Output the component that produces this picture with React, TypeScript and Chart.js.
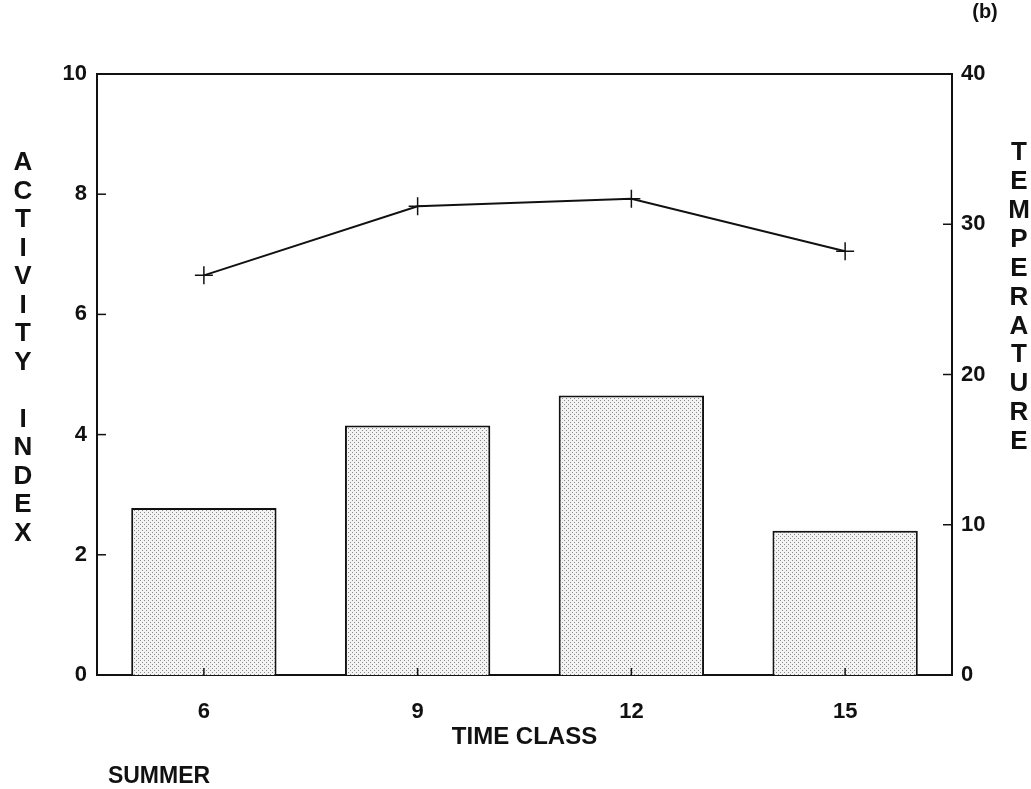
import React, { useEffect, useRef } from "react";
import { Chart, registerables } from "chart.js";

Chart.register(...registerables);

// ---- data ----
const timeClasses = ["6", "9", "12", "15"];
const activityIndex = [2.78, 4.15, 4.65, 2.4];
const temperature = [26.6, 31.2, 31.7, 28.2];
const leftTicks = [0, 2, 4, 6, 8, 10];
const rightTicks = [0, 10, 20, 30, 40];

// ---- text ----
const leftTitle = "ACTIVITY INDEX";
const rightTitle = "TEMPERATURE";
const xTitle = "TIME CLASS";
const seasonLabel = "SUMMER";
const panelLabel = "(b)";

const FONT = "'Liberation Sans', Arial, Helvetica, sans-serif";

function makePattern(): CanvasPattern | string {
  const c = document.createElement("canvas");
  c.width = 4;
  c.height = 4;
  const g = c.getContext("2d");
  if (!g) return "#e4e4e4";
  g.fillStyle = "#f3f3f3";
  g.fillRect(0, 0, 4, 4);
  g.fillStyle = "#8a8a8a";
  g.fillRect(0, 0, 1, 1);
  g.fillRect(2, 2, 1, 1);
  const p = g.createPattern(c, "repeat");
  return p || "#e4e4e4";
}

const decorPlugin = {
  id: "decor",
  afterDraw(chart: any) {
    const { ctx, chartArea } = chart;
    const { left, right, top, bottom } = chartArea;
    ctx.save();
    ctx.strokeStyle = "#111";
    ctx.lineWidth = 2;
    // top frame line
    ctx.beginPath();
    ctx.moveTo(left, top);
    ctx.lineTo(right, top);
    ctx.stroke();
    // inward ticks
    const y = chart.scales.y;
    const y1 = chart.scales.y1;
    const x = chart.scales.x;
    ctx.lineWidth = 1.5;
    leftTicks.forEach((v) => {
      if (v === 0 || v === 10) return;
      const py = y.getPixelForValue(v);
      ctx.beginPath();
      ctx.moveTo(left, py);
      ctx.lineTo(left + 9, py);
      ctx.stroke();
    });
    rightTicks.forEach((v) => {
      if (v === 0 || v === 40) return;
      const py = y1.getPixelForValue(v);
      ctx.beginPath();
      ctx.moveTo(right, py);
      ctx.lineTo(right - 9, py);
      ctx.stroke();
    });
    timeClasses.forEach((_, i) => {
      const px = x.getPixelForValue(i);
      ctx.beginPath();
      ctx.moveTo(px, bottom);
      ctx.lineTo(px, bottom - 7);
      ctx.stroke();
    });
    // stacked letter titles
    ctx.fillStyle = "#111";
    ctx.textAlign = "center";
    ctx.textBaseline = "middle";
    ctx.font = `bold 26px ${FONT}`;
    leftTitle.split("").forEach((ch, i) => {
      if (ch !== " ") ctx.fillText(ch, 23, 163 + i * 28.5);
    });
    rightTitle.split("").forEach((ch, i) => {
      ctx.fillText(ch, 1019, 153 + i * 28.9);
    });
    ctx.font = `bold 23px ${FONT}`;
    ctx.fillText(seasonLabel, 159, 777);
    ctx.font = `bold 20px ${FONT}`;
    ctx.fillText(panelLabel, 985, 12);
    ctx.restore();
  },
};

export default function App() {
  const ref = useRef<HTMLCanvasElement | null>(null);
  useEffect(() => {
    document.body.style.margin = "0";
    const canvas = ref.current;
    if (!canvas) return;
    const tickFont = { family: FONT, size: 22, weight: "bold" as const };
    const chart = new Chart(canvas, {
      data: {
        labels: timeClasses,
        datasets: [
          {
            type: "line",
            label: "Temperature",
            data: temperature,
            yAxisID: "y1",
            borderColor: "#111",
            borderWidth: 2,
            pointStyle: "cross",
            pointRadius: 9,
            pointBorderWidth: 1.5,
            pointBorderColor: "#111",
            pointBackgroundColor: "#111",
            fill: false,
            tension: 0,
            order: 0,
          },
          {
            type: "bar",
            label: "Activity index",
            data: activityIndex,
            yAxisID: "y",
            backgroundColor: makePattern() as any,
            borderColor: "#111",
            borderWidth: 2,
            borderSkipped: "bottom",
            barPercentage: 0.68,
            categoryPercentage: 1,
            order: 1,
          },
        ],
      } as any,
      options: {
        responsive: false,
        animation: false,
        layout: { padding: { top: 74, left: 0, right: 0, bottom: 0 } },
        plugins: {
          legend: { display: false },
          tooltip: { enabled: false },
          title: { display: false },
        },
        scales: {
          x: {
            type: "category",
            offset: true,
            grid: { display: false },
            border: { display: true, color: "#111", width: 2 },
            ticks: { color: "#111", font: tickFont, padding: 16, maxRotation: 0 },
            title: {
              display: true,
              text: xTitle,
              color: "#111",
              font: { family: FONT, size: 24, weight: "bold" },
              padding: { top: 0, bottom: 37 },
            },
            afterFit(scale: any) {
              scale.height = 114;
            },
          },
          y: {
            type: "linear",
            position: "left",
            min: 0,
            max: 10,
            afterBuildTicks(scale: any) {
              scale.ticks = leftTicks.map((v) => ({ value: v }));
            },
            grid: { display: false, drawTicks: false },
            border: { display: true, color: "#111", width: 2 },
            ticks: { color: "#111", font: tickFont, padding: 10 },
            afterFit(scale: any) {
              scale.width = 97;
            },
          },
          y1: {
            type: "linear",
            position: "right",
            min: 0,
            max: 40,
            afterBuildTicks(scale: any) {
              scale.ticks = rightTicks.map((v) => ({ value: v }));
            },
            grid: { display: false, drawTicks: false },
            border: { display: true, color: "#111", width: 2 },
            ticks: { color: "#111", font: tickFont, padding: 9 },
            afterFit(scale: any) {
              scale.width = 79;
            },
          },
        },
      } as any,
      plugins: [decorPlugin],
    });
    return () => chart.destroy();
  }, []);
  return (
    <div style={{ width: 1031, height: 789, background: "#fff" }}>
      <canvas ref={ref} width={1031} height={789} style={{ display: "block" }} />
    </div>
  );
}
